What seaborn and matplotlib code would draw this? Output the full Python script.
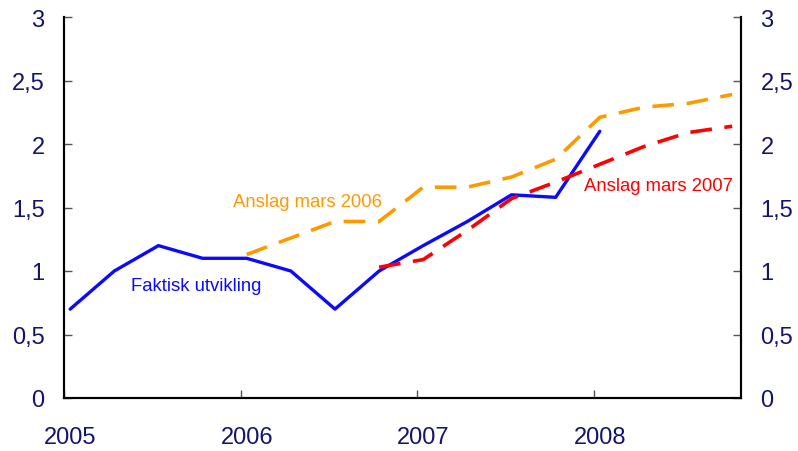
import numpy as np
import pandas as pd
import matplotlib
matplotlib.use("Agg")
import matplotlib.pyplot as plt
from matplotlib.ticker import FuncFormatter, FixedLocator, NullFormatter
import seaborn as sns

# Kvartalsdata, 2005K1 - 2008K4
kvartal = list(range(16))
faktisk = [0.70, 1.00, 1.20, 1.10, 1.10, 1.00, 0.70, 1.00, 1.20, 1.39, 1.60, 1.58, 2.10]
anslag_2006 = [1.13, 1.26, 1.39, 1.39, 1.66, 1.66, 1.74, 1.88, 2.21, 2.29, 2.32, 2.39]
anslag_2007 = [1.03, 1.09, 1.32, 1.57, 1.70, 1.84, 1.98, 2.09, 2.14]
aar = ["2005", "2006", "2007", "2008"]

sns.set_theme(style="white")
plt.rcParams['font.family'] = ['Liberation Sans', 'DejaVu Sans']

navy = "#14146e"
blaa = "#0a0aff"
oransje = "#ff9900"
roed = "#ff0000"

fig = plt.figure(figsize=(7.98, 4.52), dpi=100)
ax = fig.add_axes([64/798, 1 - 399/452, (741-64)/798, (399-18)/452])

sns.lineplot(x=kvartal[:len(faktisk)], y=faktisk, ax=ax, color=blaa, lw=2.4)
sns.lineplot(x=kvartal[4:4+len(anslag_2006)], y=anslag_2006, ax=ax, color=oransje, lw=2.6,
             linestyle=(0, (6, 3.5)))
sns.lineplot(x=kvartal[7:7+len(anslag_2007)], y=anslag_2007, ax=ax, color=roed, lw=2.6,
             linestyle=(0, (6, 3.5)))

ax.set_xlim(-0.14, 15.2)
ax.set_ylim(0, 3)

# aarsgrenser som tick-merker, aarstall midt paa foerste kvartal
ax.xaxis.set_major_locator(FixedLocator([4*i - 0.14 for i in range(len(aar))]))
ax.xaxis.set_major_formatter(NullFormatter())
ax.xaxis.set_minor_locator(FixedLocator([4*i for i in range(len(aar))]))
ax.set_xticklabels(aar, minor=True)

ax.set_yticks(np.arange(0, 3.01, 0.5))
fmt = FuncFormatter(lambda v, p: f"{v:g}".replace(".", ","))
ax.yaxis.set_major_formatter(fmt)

ax2 = ax.twinx()
ax2.set_ylim(0, 3)
ax2.set_yticks(np.arange(0, 3.01, 0.5))
ax2.yaxis.set_major_formatter(fmt)

for a in (ax, ax2):
    a.spines['top'].set_visible(False)
    for s in a.spines.values():
        s.set_color("black")
        s.set_linewidth(1.5)
    a.tick_params(axis='both', direction='in', length=6, width=1, colors="#555555",
                  labelcolor=navy, labelsize=17)
ax.tick_params(axis='y', pad=14, left=True)
ax2.tick_params(axis='y', pad=14, right=True)
ax.tick_params(axis='x', which='major', bottom=True)
ax.tick_params(axis='x', which='minor', length=0, pad=20, labelsize=17, labelcolor=navy)

ax.text(1.38, 0.885, "Faktisk utvikling", color=blaa, fontsize=13.3, va='center')
ax.text(3.70, 1.55, "Anslag mars 2006", color=oransje, fontsize=13.3, va='center')
ax.text(11.65, 1.67, "Anslag mars 2007", color=roed, fontsize=13.3, va='center')

ax.set_xlabel("")
ax.set_ylabel("")

fig.savefig("out.png", dpi=100)
